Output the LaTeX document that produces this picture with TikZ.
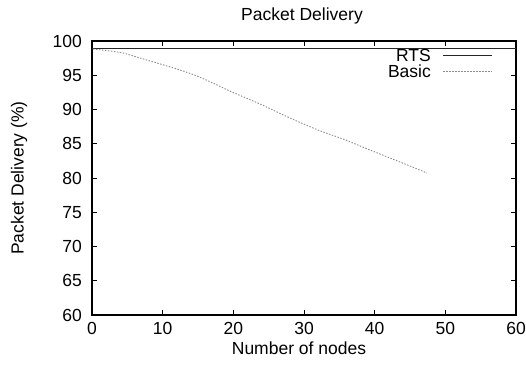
\documentclass[tikz,border=0pt]{standalone}
\usepackage{fontspec}
\setmainfont{Liberation Sans}
\begin{document}
\begin{tikzpicture}[x=1pt,y=-1pt, font=\fontsize{17.5}{20}\selectfont,
  frame/.style={line width=1.2pt, black},
  tickmark/.style={line width=0.8pt, black},
  rts/.style={line width=1pt, black!85},
  basic/.style={line width=0.9pt, black!45, dash pattern=on 1.5pt off 1.5pt},
  lbl/.style={inner sep=0pt}]
\useasboundingbox (0,0) rectangle (526,370);
% frame
\coordinate (ll) at (92,315);
\coordinate (ur) at (516,41);
\draw[frame] (ll) rectangle (ur);
% x ticks and labels
\foreach \v in {0,10,...,60} {
  \pgfmathsetmacro\px{92+7.0667*\v}
  \draw[tickmark] (\px,315) -- (\px,310);
  \draw[tickmark] (\px,41) -- (\px,46);
  \node[lbl] (xt\v) at (\px,328) {\v};
}
% y ticks and labels
\foreach \v in {60,65,...,100} {
  \pgfmathsetmacro\py{315-6.85*(\v-60)}
  \draw[tickmark] (92,\py) -- (97,\py);
  \draw[tickmark] (516,\py) -- (511,\py);
  \node[lbl, anchor=east] (yt\v) at (82,\py) {\v};
}
% labels
\node[lbl, anchor=base] (title) at (302,20) {Packet Delivery};
\node[lbl, anchor=base] (xlabel) at (299,354) {Number of nodes};
\node[lbl, rotate=90] (ylabel) at (19,178) {Packet Delivery (\%)};
% RTS
\draw[rts] (92,48) -- (516,48);
% Basic
\draw[basic] plot[smooth, tension=0.5] coordinates {
  (93,49) (110,51) (123,53) (140,58) (157,63) (177,69) (197,76) (215,84)
  (232,92) (260,104) (290,118) (318,130) (343,139) (365,148) (385,156)
  (405,164) (427,173)};
% legend
\node[lbl, anchor=base east] (lrts) at (431,61) {RTS};
\node[lbl, anchor=base east] (lbasic) at (431,77) {Basic};
\coordinate (r1) at (443,55);
\coordinate (r2) at (492,55);
\coordinate (b1) at (443,71);
\coordinate (b2) at (492,71);
\draw[rts, line width=0.7pt] (r1) -- (r2);
\draw[basic] (b1) -- (b2);
\end{tikzpicture}
\end{document}
